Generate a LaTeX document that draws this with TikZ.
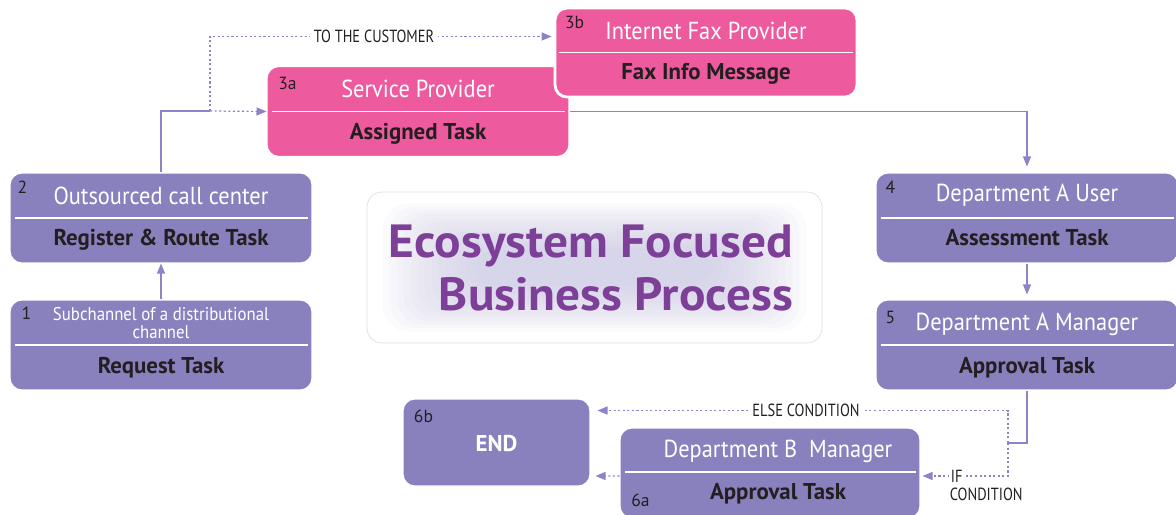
\documentclass[tikz,border=0pt]{standalone}
\usepackage{fontspec}
\setmainfont{PT Sans}
\newfontfamily\condfont[FakeStretch=0.82]{PT Sans}
\newfontfamily\rolefont[FakeStretch=0.91]{PT Sans}
\newfontfamily\titlefont[FakeStretch=1.06]{PT Sans}
\usetikzlibrary{arrows.meta,calc,positioning}
\definecolor{taskpurple}{RGB}{136,129,190}
\definecolor{providerpink}{RGB}{238,90,158}
\definecolor{titlepurple}{RGB}{126,63,152}
\definecolor{flowpurple}{RGB}{140,132,200}
\definecolor{inkdark}{RGB}{35,31,32}
\definecolor{glowlilac}{RGB}{200,196,226}

\tikzset{
  taskbox/.style={rectangle, rounded corners=0.24cm, draw=white, line width=0.6pt, fill=taskpurple, minimum width=6.04cm, minimum height=1.8cm},
  pinkbox/.style={taskbox, fill=providerpink},
  roletext/.style={text=white, font=\rolefont\fontsize{14}{16}\selectfont},
  tasktext/.style={text=inkdark, font=\bfseries\fontsize{13}{15}\selectfont},
  steptag/.style={text=inkdark, font=\fontsize{10}{12}\selectfont},
  divider/.style={draw=white, line width=0.8pt},
  flowline/.style={draw=flowpurple, line width=0.7pt},
  flow/.style={flowline, -{Triangle[length=0.2cm,width=0.16cm]}},
  dotflow/.style={flow, dash pattern=on 1.2pt off 1.4pt},
  condtext/.style={text=inkdark, font=\condfont\fontsize{10}{11}\selectfont, fill=white, inner sep=2pt},
}

\begin{document}
\begin{tikzpicture}[x=0.02cm, y=-0.02cm]
    \useasboundingbox (0,0) rectangle (1176,514);

    % Title panel
    \node[draw=gray!25, rounded corners=0.3cm, fill=white, minimum width=9.1cm, minimum height=3.02cm] (titlebox) at (594.5,267.5) {};
    \foreach \i in {0,...,13}
        \fill[glowlilac, opacity=0.07, rounded corners=0.5cm] ($(titlebox.north west)+(16+\i*7,12+\i*3.5)$) rectangle ($(titlebox.south east)+(-16-\i*7,-12-\i*3.5)$);
    \node[font=\titlefont\bfseries\fontsize{26.5}{30}\selectfont, text=titlepurple, align=right, anchor=east] (title) at (799,268) {Ecosystem Focused\\Business Process};

    % Step 1
    \node[taskbox] (request) at (161,345) {};
    \draw[divider] ($(request.west)+(5,0)$) -- ($(request.east)+(-5,0)$);
    \node[roletext, align=center, font=\rolefont\fontsize{10.5}{10.5}\selectfont] (request-role) at ($(request)+(0,-22)$) {Subchannel of a distributional\\channel};
    \node[tasktext] (request-task) at ($(request)+(0,23)$) {Request Task};
    \node[steptag] (request-tag) at ($(request.north west)+(17,14)$) {1};

    % Step 2
    \node[taskbox] (callctr) at (161,218) {};
    \draw[divider] ($(callctr.west)+(5,0)$) -- ($(callctr.east)+(-5,0)$);
    \node[roletext] (callctr-role) at ($(callctr)+(0,-22)$) {Outsourced call center};
    \node[tasktext] (callctr-task) at ($(callctr)+(0,22)$) {Register \& Route Task};
    \node[steptag] (callctr-tag) at ($(callctr.north west)+(13,15)$) {2};

    % Step 3a
    \node[pinkbox] (service) at (418,111.5) {};
    \draw[divider] ($(service.west)+(5,0)$) -- ($(service.east)+(-5,0)$);
    \node[roletext] (service-role) at ($(service)+(0,-23)$) {Service Provider};
    \node[tasktext] (service-task) at ($(service)+(0,22)$) {Assigned Task};
    \node[steptag] (service-tag) at ($(service.north west)+(21,17)$) {3a};

    % Step 3b
    \node[pinkbox, line width=1.6pt, minimum height=1.78cm] (faxprov) at (706,52.5) {};
    \draw[divider] ($(faxprov.west)+(5,0)$) -- ($(faxprov.east)+(-5,0)$);
    \node[roletext] (faxprov-role) at ($(faxprov)+(0,-22)$) {Internet Fax Provider};
    \node[tasktext] (faxprov-task) at ($(faxprov)+(0,21)$) {Fax Info Message};
    \node[steptag] (faxprov-tag) at ($(faxprov.north west)+(21,16)$) {3b};

    % Step 4
    \node[taskbox] (userA) at (1027,218) {};
    \draw[divider] ($(userA.west)+(5,0)$) -- ($(userA.east)+(-5,0)$);
    \node[roletext] (userA-role) at ($(userA)+(0,-23)$) {Department A User};
    \node[tasktext] (userA-task) at ($(userA)+(0,20)$) {Assessment Task};
    \node[steptag] (userA-tag) at ($(userA.north west)+(15,15)$) {4};

    % Step 5
    \node[taskbox] (mgrA) at (1027,345) {};
    \draw[divider] ($(mgrA.west)+(5,0)$) -- ($(mgrA.east)+(-5,0)$);
    \node[roletext] (mgrA-role) at ($(mgrA)+(0,-21)$) {Department A Manager};
    \node[tasktext] (mgrA-task) at ($(mgrA)+(0,23)$) {Approval Task};
    \node[steptag] (mgrA-tag) at ($(mgrA.north west)+(15,18)$) {5};

    % Step 6b
    \node[taskbox, minimum width=3.74cm, minimum height=1.74cm] (endbox) at (496.5,442.5) {};
    \node[tasktext, text=white] (endbox-task) at ($(endbox)+(0,1)$) {END};
    \node[steptag] (endbox-tag) at ($(endbox.north west)+(21,18)$) {6b};

    % Step 6a
    \node[taskbox, minimum width=6cm] (mgrB) at (770,473) {};
    \draw[divider] ($(mgrB.west)+(5,-1)$) -- ($(mgrB.east)+(-5,-1)$);
    \node[roletext] (mgrB-role) at ($(mgrB)+(8,-22)$) {Department B\ \ Manager};
    \node[tasktext] (mgrB-task) at ($(mgrB)+(8,21)$) {Approval Task};
    \node[steptag] (mgrB-tag) at ($(mgrB.south west)+(21,-18)$) {6a};

    % Connectors
    \coordinate (split) at (210,111);
    \coordinate (ifsplit) at (1008,443);
    \draw[flow] (request) -- (callctr);
    \draw[flowline] (callctr.north) |- (split);
    \draw[dotflow] (split) -- (service.west);
    \draw[dotflow] (split) |- node[condtext, pos=0.74] (custlbl) {TO THE CUSTOMER} ($(faxprov.west)+(-2,-16)$);
    \draw[flow, shorten >=0.12cm] (service.east) -| (userA.north);
    \draw[flow, shorten >=0.1cm] (userA) -- (mgrA);
    \draw[flowline] (mgrA.south) |- (ifsplit);
    \draw[dotflow] (ifsplit) |- node[condtext, pos=0.746] (elselbl) {ELSE CONDITION} ($(endbox.east)+(7,-32)$);
    \draw[dotflow] (ifsplit) |- node[condtext, pos=0.8, inner sep=1pt] (iflbl) {IF} ($(mgrB.east)+(2,3)$);
    \node[condtext, fill=none, inner sep=0pt, anchor=north west] (condword) at ($(iflbl.south west)+(1,3)$) {CONDITION};
    \draw[dotflow] ($(mgrB.west)+(0,3)$) -- ($(endbox.east)+(5,33.5)$);
\end{tikzpicture}
\end{document}
